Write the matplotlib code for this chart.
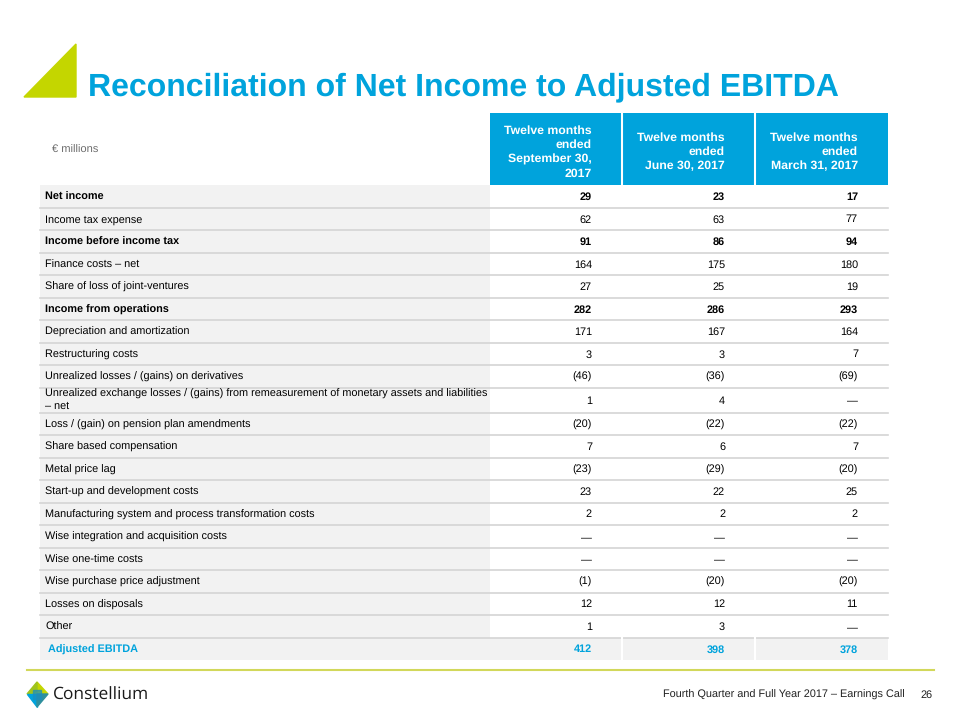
import matplotlib.pyplot as plt
from matplotlib.patches import Rectangle, Polygon

plt.rcParams['font.family'] = ['Liberation Sans', 'DejaVu Sans']
plt.rcParams['text.hinting'] = 'no_hinting'

# table content
title = "Reconciliation of Net Income to Adjusted EBITDA"
unit_label = "€ millions"
col_headers = ["Twelve months\nended\nSeptember 30,\n2017",
               "Twelve months\nended\nJune 30, 2017",
               "Twelve months\nended\nMarch 31, 2017"]
row_labels = ["Net income", "Income tax expense", "Income before income tax",
              "Finance costs – net", "Share of loss of joint-ventures",
              "Income from operations", "Depreciation and amortization",
              "Restructuring costs", "Unrealized losses / (gains) on derivatives",
              "Unrealized exchange losses / (gains) from remeasurement of monetary assets and liabilities\n– net",
              "Loss / (gain) on pension plan amendments", "Share based compensation",
              "Metal price lag", "Start-up and development costs",
              "Manufacturing system and process transformation costs",
              "Wise integration and acquisition costs", "Wise one-time costs",
              "Wise purchase price adjustment", "Losses on disposals", "Other",
              "Adjusted EBITDA"]
sep_2017 = ["29", "62", "91", "164", "27", "282", "171", "3", "(46)", "1", "(20)",
            "7", "(23)", "23", "2", "—", "—", "(1)", "12", "1", "412"]
jun_2017 = ["23", "63", "86", "175", "25", "286", "167", "3", "(36)", "4", "(22)",
            "6", "(29)", "22", "2", "—", "—", "(20)", "12", "3", "398"]
mar_2017 = ["17", "77", "94", "180", "19", "293", "164", "7", "(69)", "—", "(22)",
            "7", "(20)", "25", "2", "—", "—", "(20)", "11", "—", "378"]
bold_rows = ["Net income", "Income before income tax", "Income from operations"]
total_row = "Adjusted EBITDA"
footer = "Fourth Quarter and Full Year 2017 – Earnings Call"
page = "26"

BLUE = "#00a3dc"
LIME = "#c4d600"
GREY_BG = "#f2f2f2"
LINE = "#d4d4d4"
FS = 7.8

fig = plt.figure(figsize=(9.6, 7.2), dpi=100)
ax = fig.add_axes([0, 0, 1, 1])
ax.set_xlim(0, 960)
ax.set_ylim(720, 0)
ax.axis("off")

# title block
ax.add_patch(Polygon([(24, 97), (76, 44), (76, 97)], closed=True, color=LIME))
ax.text(88, 87, title, fontsize=23, fontweight="bold", color=BLUE,
        va="center", ha="left")

# table geometry
x_lab0, x_lab1 = 40, 490
col_edges = [490, 622, 755, 888]
val_x = [592, 725, 858]
hdr_top, hdr_bot = 113, 185

ax.text(52, 150, unit_label, fontsize=8, color="#6d6d6d", va="center")

for i, h in enumerate(col_headers):
    ax.add_patch(Rectangle((col_edges[i], hdr_top), col_edges[i + 1] - col_edges[i],
                           hdr_bot - hdr_top, color=BLUE, lw=0))
    ax.text(val_x[i], 152, h, fontsize=8.8, fontweight="bold",
            color="white", ha="right", va="center", multialignment="right",
            linespacing=1.35)
for xe in col_edges[1:-1]:
    ax.plot([xe, xe], [hdr_top, hdr_bot], color="white", lw=1.5)

y = hdr_bot
cols = [sep_2017, jun_2017, mar_2017]
for r, lab in enumerate(row_labels):
    rh = 25 if "\n" in lab else 22.5
    yc = y + rh / 2
    is_total = lab == total_row
    if is_total:
        ax.add_patch(Rectangle((x_lab0, y), col_edges[-1] - x_lab0, rh,
                               color=GREY_BG, lw=0))
        for xe in col_edges[1:-1]:
            ax.plot([xe, xe], [y, y + rh], color="white", lw=1.5)
    else:
        ax.add_patch(Rectangle((x_lab0, y), x_lab1 - x_lab0, rh, color=GREY_BG, lw=0))
    weight = "bold" if (lab in bold_rows or is_total) else "normal"
    color = BLUE if is_total else "black"
    if "\n" in lab:
        ax.text(45, yc, lab, fontsize=FS, fontweight=weight, color=color,
                va="center", ha="left", linespacing=1.15)
    else:
        ax.text(48 if is_total else 45, yc + 3.7, lab, fontsize=FS,
                fontweight=weight, color=color, va="baseline", ha="left")
    for c in range(3):
        ax.text(val_x[c], yc + 3.7, cols[c][r], fontsize=FS, fontweight=weight,
                color=color, va="baseline", ha="right")
    y += rh
    if not is_total:
        ax.plot([x_lab0, col_edges[-1]], [y, y], color=LINE, lw=1.2)

# footer
ax.plot([27, 934], [670, 670], color="#d2d85a", lw=1.5)
ax.text(905, 695, footer, fontsize=7.8, color="#222222", ha="right", va="center")
ax.text(933, 695, page, fontsize=7.8, color="#222222", ha="right", va="center")

# logo mark
ax.add_patch(Polygon([(37, 682), (48, 694), (37, 694)], closed=True, color=LIME))
ax.add_patch(Polygon([(27, 694), (37, 682), (37, 694)], closed=True, color="#9fc31c"))
ax.add_patch(Polygon([(27, 694), (37, 694), (37, 707)], closed=True, color="#00a3dc"))
ax.add_patch(Polygon([(37, 694), (48, 694), (37, 707)], closed=True, color="#2f8f9d"))
ax.add_patch(Polygon([(33, 690), (41, 690), (41, 699), (33, 699)], closed=True,
                     color="#1b8dc0", alpha=0.7))
ax.text(53, 695, "Constellium", fontsize=12.5, color="#1a1a1a", va="center",
        ha="left", family=["Open Sans", "DejaVu Sans"])

fig.savefig("out.png", dpi=100)
